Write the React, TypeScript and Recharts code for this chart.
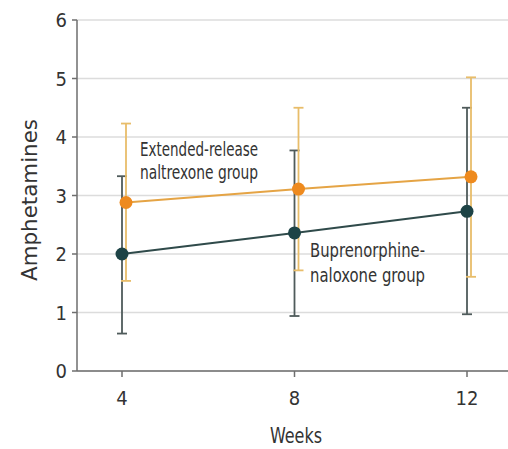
import React from "react";
import {
  LineChart,
  Line,
  XAxis,
  YAxis,
  CartesianGrid,
  ErrorBar,
  Customized,
} from "recharts";

const weeks = ["4", "8", "12"];
const yTicks = [0, 1, 2, 3, 4, 5, 6];

// extended-release naltrexone (orange)
const naltrexoneMean = [2.88, 3.11, 3.32];
const naltrexoneLow = [1.54, 1.72, 1.61];
const naltrexoneHigh = [4.23, 4.5, 5.02];

// buprenorphine-naloxone (dark green)
const buprenorphineMean = [2.0, 2.36, 2.73];
const buprenorphineLow = [0.64, 0.94, 0.97];
const buprenorphineHigh = [3.33, 3.77, 4.5];

const data = weeks.map((week, i) => ({
  week,
  naltrexone: naltrexoneMean[i],
  naltrexoneErr: [
    naltrexoneMean[i] - naltrexoneLow[i],
    naltrexoneHigh[i] - naltrexoneMean[i],
  ],
  buprenorphine: buprenorphineMean[i],
  buprenorphineErr: [
    buprenorphineMean[i] - buprenorphineLow[i],
    buprenorphineHigh[i] - buprenorphineMean[i],
  ],
}));

const NARROW = '"Liberation Sans Narrow", "DejaVu Sans Condensed", sans-serif';
const TEXT = "#333";

// squeeze text to mimic the condensed face of the original
function Squeezed({ x, y, width, children }: any) {
  return (
    <text x={x} y={y} textLength={width} lengthAdjust="spacingAndGlyphs">
      {children}
    </text>
  );
}

function Labels() {
  return (
    <g fill={TEXT}>
      <text
        transform="translate(37,200) rotate(-90)"
        textAnchor="middle"
        fontFamily='"DejaVu Sans", sans-serif'
        fontSize={21.5}
        textLength={162}
        lengthAdjust="spacingAndGlyphs"
      >
        Amphetamines
      </text>
      <g fontFamily={NARROW} fontSize={21}>
        <Squeezed x={270} y={443} width={52}>
          Weeks
        </Squeezed>
      </g>
      <g fontFamily={NARROW} fontSize={20}>
        <Squeezed x={140} y={156} width={118}>
          Extended-release
        </Squeezed>
        <Squeezed x={140} y={179} width={118}>
          naltrexone group
        </Squeezed>
        <Squeezed x={310} y={257} width={115}>
          Buprenorphine-
        </Squeezed>
        <Squeezed x={310} y={282} width={115}>
          naloxone group
        </Squeezed>
      </g>
    </g>
  );
}

export default function App() {
  return (
    <div style={{ position: "absolute", left: 0, top: 0, background: "#fff" }}>
      <LineChart
        width={508}
        height={449}
        data={data}
        margin={{ top: 20, right: 0, bottom: 0, left: 0 }}
      >
        <CartesianGrid vertical={false} stroke="#dcdcdc" strokeWidth={1.5} />
        <XAxis
          dataKey="week"
          height={78}
          padding={{ left: 45, right: 41 }}
          tickSize={6}
          tickMargin={14}
          axisLine={{ stroke: "#6e6e6e", strokeWidth: 1.5 }}
          tickLine={{ stroke: "#6e6e6e", strokeWidth: 1.5 }}
          tick={{ fill: TEXT, fontSize: 20, fontFamily: NARROW }}
        />
        <XAxis
          xAxisId="orange"
          dataKey="week"
          hide
          padding={{ left: 49, right: 37 }}
        />
        <YAxis
          width={77}
          domain={[0, 6]}
          ticks={yTicks}
          tickSize={5}
          tickMargin={5}
          axisLine={{ stroke: "#6e6e6e", strokeWidth: 1.5 }}
          tickLine={{ stroke: "#6e6e6e", strokeWidth: 1.5 }}
          tick={{ fill: TEXT, fontSize: 20, fontFamily: NARROW }}
        />
        <Line
          dataKey="buprenorphine"
          stroke="#2f4a4a"
          strokeWidth={2}
          dot={{ r: 6.5, fill: "#1d4346", stroke: "none" }}
          activeDot={false}
          isAnimationActive={false}
        >
          <ErrorBar
            dataKey="buprenorphineErr"
            width={5}
            stroke="#4f5b5b"
            strokeWidth={1.8}
            direction="y"
          />
        </Line>
        <Line
          xAxisId="orange"
          dataKey="naltrexone"
          stroke="#e5a445"
          strokeWidth={2}
          dot={{ r: 6.5, fill: "#ee8a1e", stroke: "none" }}
          activeDot={false}
          isAnimationActive={false}
        >
          <ErrorBar
            dataKey="naltrexoneErr"
            width={5}
            stroke="#e8bd6a"
            strokeWidth={1.8}
            direction="y"
          />
        </Line>
        <Customized component={Labels} />
      </LineChart>
    </div>
  );
}
